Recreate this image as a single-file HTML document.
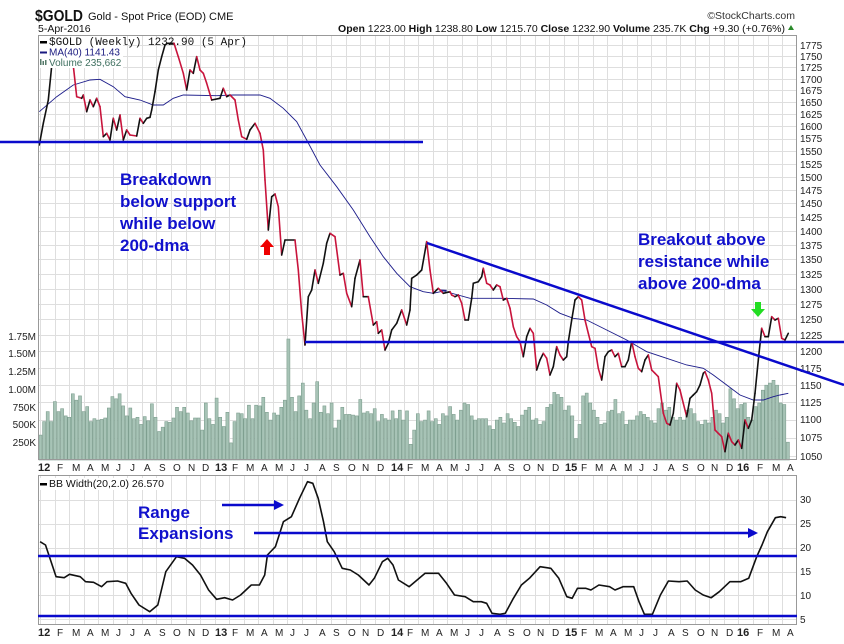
<!DOCTYPE html>
<html><head><meta charset="utf-8"><style>
html,body{margin:0;padding:0;background:#fff;}
svg{display:block;font-family:"Liberation Sans",Arial,sans-serif;}
</style></head><body>
<svg id="s" width="844" height="644" viewBox="0 0 844 644" xmlns="http://www.w3.org/2000/svg">
<rect width="844" height="644" fill="#fff"/>
<g id="grid" stroke="#dedede" stroke-width="1"></g>
<g id="vol"></g>
<!-- header -->
<text x="35" y="21" font-size="16" font-weight="bold" fill="#111" textLength="48" lengthAdjust="spacingAndGlyphs">$GOLD</text>
<text x="88" y="20" font-size="11" fill="#111">Gold - Spot Price (EOD) CME</text>
<text x="795" y="19" font-size="10.5" fill="#333" text-anchor="end">©StockCharts.com</text>
<text x="38" y="32" font-size="10.5" fill="#111">5-Apr-2016</text>
<text x="785" y="32" font-size="10.5" fill="#111" text-anchor="end"><tspan font-weight="bold">Open</tspan> 1223.00 <tspan font-weight="bold">High</tspan> 1238.80 <tspan font-weight="bold">Low</tspan> 1215.70 <tspan font-weight="bold">Close</tspan> 1232.90 <tspan font-weight="bold">Volume</tspan> 235.7K <tspan font-weight="bold">Chg</tspan> +9.30 (+0.76%)</text>
<polygon points="788,30 794,30 791,25" fill="#2a8a2a"/>
<!-- panel boxes -->
<rect x="38.5" y="35.5" width="758" height="424" fill="none" stroke="#999"/>
<rect x="38.5" y="475.5" width="758" height="149" fill="none" stroke="#999"/>
<!-- price axis labels -->
<g font-size="10" fill="#222">
<text x="800" y="49">1775</text><text x="800" y="60">1750</text><text x="800" y="71">1725</text><text x="800" y="83">1700</text><text x="800" y="94">1675</text><text x="800" y="106">1650</text><text x="800" y="118">1625</text><text x="800" y="130">1600</text><text x="800" y="142">1575</text><text x="800" y="155">1550</text><text x="800" y="168">1525</text><text x="800" y="181">1500</text><text x="800" y="194">1475</text><text x="800" y="207">1450</text><text x="800" y="221">1425</text><text x="800" y="235">1400</text><text x="800" y="249">1375</text><text x="800" y="263">1350</text><text x="800" y="278">1325</text><text x="800" y="293">1300</text><text x="800" y="308">1275</text><text x="800" y="323">1250</text><text x="800" y="339">1225</text><text x="800" y="355">1200</text><text x="800" y="372">1175</text><text x="800" y="389">1150</text><text x="800" y="406">1125</text><text x="800" y="423">1100</text><text x="800" y="441">1075</text><text x="800" y="460">1050</text>
</g>
<g font-size="10" fill="#222" text-anchor="end">
<text x="36" y="340">1.75M</text><text x="36" y="357">1.50M</text><text x="36" y="375">1.25M</text><text x="36" y="393">1.00M</text><text x="36" y="411">750K</text><text x="36" y="428">500K</text><text x="36" y="446">250K</text>
</g>
<g font-size="10" fill="#222">
<text x="800" y="503">30</text><text x="800" y="527">25</text><text x="800" y="551">20</text><text x="800" y="575">15</text><text x="800" y="599">10</text><text x="800" y="623">5</text>
</g>
<!-- month labels -->
<g id="xl1" font-size="10" fill="#222"><text y="471"><tspan x="38" font-weight="bold" font-size="11">12</tspan><tspan x="57">F</tspan><tspan x="72">M</tspan><tspan x="87">A</tspan><tspan x="101">M</tspan><tspan x="116">J</tspan><tspan x="130">J</tspan><tspan x="144">A</tspan><tspan x="159">S</tspan><tspan x="173">O</tspan><tspan x="188">N</tspan><tspan x="202">D</tspan><tspan x="215" font-weight="bold" font-size="11">13</tspan><tspan x="232">F</tspan><tspan x="246">M</tspan><tspan x="261">A</tspan><tspan x="275">M</tspan><tspan x="290">J</tspan><tspan x="304">J</tspan><tspan x="319">A</tspan><tspan x="333">S</tspan><tspan x="348">O</tspan><tspan x="362">N</tspan><tspan x="377">D</tspan><tspan x="391" font-weight="bold" font-size="11">14</tspan><tspan x="407">F</tspan><tspan x="421">M</tspan><tspan x="436">A</tspan><tspan x="450">M</tspan><tspan x="465">J</tspan><tspan x="479">J</tspan><tspan x="494">A</tspan><tspan x="508">S</tspan><tspan x="523">O</tspan><tspan x="537">N</tspan><tspan x="552">D</tspan><tspan x="565" font-weight="bold" font-size="11">15</tspan><tspan x="581">F</tspan><tspan x="595">M</tspan><tspan x="610">A</tspan><tspan x="624">M</tspan><tspan x="639">J</tspan><tspan x="653">J</tspan><tspan x="668">A</tspan><tspan x="682">S</tspan><tspan x="697">O</tspan><tspan x="711">N</tspan><tspan x="726">D</tspan><tspan x="737" font-weight="bold" font-size="11">16</tspan><tspan x="757">F</tspan><tspan x="772">M</tspan><tspan x="787">A</tspan></text></g>
<use href="#xl1" y="165"/>
<g id="lines"></g>
<!-- legends (on top of lines) -->
<rect x="39" y="36" width="84" height="32" fill="#fff"/>
<rect x="40" y="41" width="7" height="2.5" fill="#000"/>
<text x="49" y="45" font-size="11" font-family="Liberation Mono,monospace" fill="#111">$GOLD (Weekly) 1232.90 (5 Apr)</text>
<rect x="40" y="51.5" width="7" height="2" fill="#1a1a80"/>
<text x="49" y="55.5" font-size="10" fill="#1a1a80">MA(40) 1141.43</text>
<g fill="#557a6a"><rect x="40" y="59" width="1.5" height="6"/><rect x="42.5" y="61" width="1.5" height="4"/><rect x="45" y="60" width="1.5" height="5"/></g>
<text x="49" y="66" font-size="10" fill="#3f7060">Volume 235,662</text>
<rect x="40" y="478" width="126" height="12" fill="#fff"/>
<rect x="40" y="483" width="7" height="2.5" fill="#000"/>
<text x="49" y="487" font-size="10.5" fill="#111">BB Width(20,2.0) 26.570</text>
<!-- annotation lines -->
<g stroke="#0a0acc" stroke-width="2.5" fill="none">
<line x1="0" y1="142" x2="423" y2="142"/>
<line x1="305" y1="342" x2="844" y2="342"/>
<line x1="427" y1="243" x2="844" y2="385"/>
<line x1="38" y1="556" x2="797" y2="556"/>
<line x1="38" y1="616" x2="797" y2="616"/>
<line x1="222" y1="505" x2="276" y2="505"/>
<line x1="254" y1="533" x2="750" y2="533"/>
</g>
<polygon points="274,500 284,505 274,510" fill="#0a0acc"/>
<polygon points="748,528 758,533 748,538" fill="#0a0acc"/>
<polygon points="267,239 274,247 270,247 270,255 264,255 264,247 260,247" fill="#ee0000"/>
<polygon points="758,317 765,309 761,309 761,302 755,302 755,309 751,309" fill="#22dd22"/>
<g font-size="17" font-weight="bold" fill="#1010cc">
<text x="120" y="185">Breakdown</text>
<text x="120" y="207">below support</text>
<text x="120" y="229">while below</text>
<text x="120" y="251">200-dma</text>
<text x="638" y="245">Breakout above</text>
<text x="638" y="267">resistance while</text>
<text x="638" y="289">above 200-dma</text>
<text x="138" y="518">Range</text>
<text x="138" y="539">Expansions</text>
</g>
</svg>
<script>
(function(){
var NS="http://www.w3.org/2000/svg";
function el(t,a,p){var e=document.createElementNS(NS,t);for(var k in a)e.setAttribute(k,a[k]);p.appendChild(e);return e;}
var g=document.getElementById('grid');
for(var i=0;i<52;i++){var x=Math.round(40+14.55*i)+0.5;el('line',{x1:x,y1:36,x2:x,y2:459},g);el('line',{x1:x,y1:476,x2:x,y2:624},g);}
for(var p=1775;p>=1050;p-=25){var y=Math.round(456-783*Math.log(p/1050))+0.5;el('line',{x1:39,y1:y,x2:796,y2:y},g);}
for(var v=5;v<=30;v+=5){var y=Math.round(500+(30-v)*4.77)+0.5;el('line',{x1:39,y1:y,x2:796,y2:y},g);}
var V=[350,540,680,540,820,680,720,620,600,930,840,900,680,750,540,580,560,570,590,730,890,860,930,760,620,730,580,600,500,610,550,790,600,400,460,540,530,590,740,680,740,660,550,590,590,420,800,580,500,870,600,470,670,
240,540,660,650,580,770,580,770,760,880,670,560,660,630,740,840,1700,880,680,900,1080,700,580,800,1100,670,760,650,800,450,560,740,640,640,630,620,850,660,680,650,720,540,640,580,560,690,580,700,560,690,220,420,650,540,
560,690,540,580,500,650,620,750,640,560,700,800,780,620,560,580,580,580,480,430,560,600,520,650,580,530,470,630,700,740,560,580,500,540,740,780,950,920,880,700,760,620,300,500,900,940,800,700,600,500,520,680,700,850,650,680,500,560,560,620,680,640,600,550,520,720,800,700,740,600,560,600,560,700,720,650,540,500,560,520,600,700,650,520,600,1000,860,720,780,800,600,560,750,800,980,1050,1080,1120,1050,800,780,250];
var vg=document.getElementById('vol');var n=V.length,w=(790-39)/n;
for(var i=0;i<n;i++){var h=V[i]/250*17.8;el('rect',{x:(39+i*w).toFixed(1),y:(460-h).toFixed(1),width:(w-0.6).toFixed(1),height:h.toFixed(1),fill:'#a7c3b6',stroke:'#7f9f90','stroke-width':0.6},vg);}
var L=document.getElementById('lines');
function conv(a,ox,oy,fx,fy){var r=[];for(var i=0;i<a.length;i+=2)r.push([ox+a[i]/fx,oy+a[i+1]/fy]);return r;}
var P1=[28,345,40,280,55,210,66,99,72,20,120,20,129,99,140,200,155,205,160,195,170,245,180,210,190,230,200,205,210,230,220,320,230,310,240,330,250,265,260,300,270,255,280,330,290,300,300,315,320,318,330,265,340,280,350,265,360,262,365,240,375,185,385,120,395,80,405,45,412,40,432,40,445,80,460,130,470,180,480,120,490,130,500,80,510,120,520,130,530,160,545,210,570,205,580,175,590,200,600,195,615,210,625,270,635,320,650,328,660,300,675,280,690,310,700,360,705,450,715,600,725,500,735,492,745,530,755,675,765,630,795,630,805,720,815,850,825,945,835,800,845,780,855,720,865,760,880,700,890,640,900,610,915,620,930,735,940,730,950,790,965,830,975,745,990,690,1000,800,1015,800,1030,885,1040,875,1045,910,1055,900,1065,960,1075,940,1085,900,1100,880,1115,840,1130,885,1140,840,1145,745,1160,735,1175,720,1190,635,1200,720,1210,790,1225,775,1240,790,1260,785];
var P2=[95,225,105,230,115,225,125,250,135,300,145,300,155,235,160,190,175,185,185,170,190,145,200,190,210,195,220,210,230,195,240,200,250,240,260,235,270,265,280,320,290,350,300,365,310,410,320,350,330,325,340,340,350,450,360,420,370,400,380,415,390,465,400,440,410,380,420,405,430,420,440,410,445,365,455,300,465,240,475,230,485,240,495,300,505,340,515,380,525,385,535,445,545,480,555,410,565,395,575,390,585,410,595,400,605,440,615,440,625,420,635,365,645,410,655,445,665,455,675,420,685,405,695,450,705,460,715,470,730,580,740,610,750,615,760,580,770,490,780,510,790,550,800,590,810,535,820,525,830,515,840,495,850,460,855,455,865,480,875,520,885,630,895,640,905,650,915,695,925,640,935,665,945,675,955,660,965,685,975,600,985,625,995,600,1005,520,1015,420,1025,325,1035,350,1045,350,1055,290,1065,300,1075,295,1085,355,1095,360,1105,340];
var pts=conv(P1,30,30,3,3).concat(conv(P2,420,220,3,3));
var M1=[28,245,80,200,130,165,180,150,210,148,250,170,285,200,330,210,370,225,400,225,430,205,460,195,560,197,610,195,690,195,720,205,760,235,800,275,830,330,870,405,920,470,970,540,1020,620,1060,680,1100,730,1140,770,1180,785,1210,790,1250,781];
var M2=[60,210,150,235,250,235,340,237,380,255,420,280,460,295,500,300,560,330,620,360,680,395,740,415,800,435,850,445,880,465,920,495,960,525,1000,540,1030,540,1060,530,1080,525,1105,520];
var mp=conv(M1,30,30,3,3).concat(conv(M2,420,220,3,3));
el('polyline',{points:mp.map(function(q){return q[0].toFixed(1)+','+q[1].toFixed(1)}).join(' '),fill:'none',stroke:'#1c1c8a','stroke-width':0.9},L);
var defs=el('defs',{},L);var cp=el('clipPath',{id:'cp'},defs);el('rect',{x:39,y:36,width:757,height:423},cp);
var cl=el('g',{'clip-path':'url(#cp)'},L);
for(var i=1;i<pts.length;i++){var a=pts[i-1],b=pts[i];el('line',{x1:a[0].toFixed(1),y1:a[1].toFixed(1),x2:b[0].toFixed(1),y2:b[1].toFixed(1),stroke:(b[1]>a[1]?'#c8143c':'#111'),'stroke-width':1.6,'stroke-linecap':'round'},cl);}
var B=[75,260,85,270,105,365,120,368,130,358,150,365,160,380,175,382,190,395,200,380,220,378,235,385,245,415,260,450,280,470,295,450,310,350,330,305,345,310,360,330,375,360,390,405,405,433,420,428,435,435,450,420,470,390,485,390,495,360,500,300,515,275,530,200,545,185,560,130,575,80,585,85,595,130,605,200,612,260,625,290,640,340,655,345,670,360,690,390,700,370,715,320,725,310,735,330,745,375,765,395,780,375,795,355,820,355,835,385,850,420,870,425,885,440,900,440,910,445,920,475,935,478,945,475,960,430,975,390,990,370,1010,335,1030,340,1045,370,1060,425,1070,430,1080,400,1095,400,1105,405,1120,390,1140,395,1150,405,1165,395,1185,395,1195,440,1205,478,1220,478,1235,420,1250,378,1270,380,1285,378,1300,405,1315,420,1330,428,1345,410,1365,380,1385,380,1400,370,1415,305,1425,270,1435,230,1450,188,1460,185,1470,188];
var bp=conv(B,0,455,1.87,3);
el('polyline',{points:bp.map(function(q){return q[0].toFixed(1)+','+q[1].toFixed(1)}).join(' '),fill:'none',stroke:'#111','stroke-width':1.6,'stroke-linejoin':'round'},L);
})();
</script>
</body></html>
